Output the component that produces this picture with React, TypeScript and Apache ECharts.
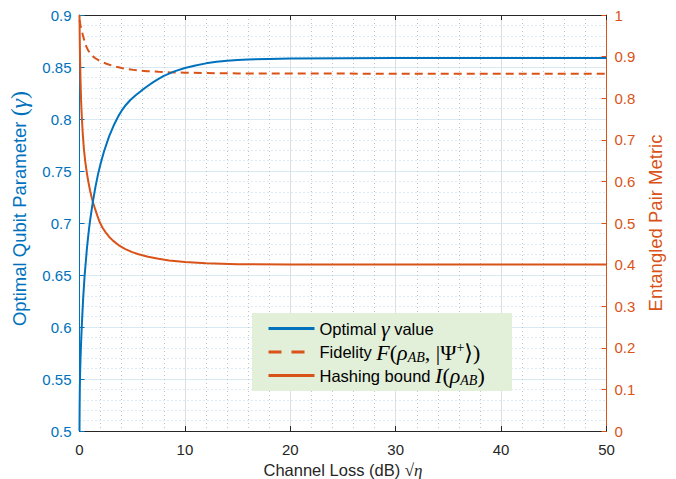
import React, { useEffect, useRef } from "react";
import * as echarts from "echarts";

// Optimal gamma (left axis)
const gammaData: [number, number][] = [
  [0, 0.5], [0.01, 0.52], [0.03, 0.54], [0.06, 0.557], [0.1, 0.571], [0.15, 0.585],
  [0.2, 0.597], [0.25, 0.608], [0.35, 0.628], [0.49, 0.65], [0.6, 0.663], [0.7, 0.675],
  [0.8, 0.685], [0.9, 0.694], [1.0, 0.702], [1.1, 0.709], [1.28, 0.721], [1.5, 0.734],
  [1.76, 0.747], [2.0, 0.757], [2.33, 0.769], [2.8, 0.783], [3.3, 0.795], [3.7, 0.803],
  [4.0, 0.808], [4.4, 0.8135], [4.8, 0.818], [5.3, 0.8225], [5.9, 0.8275], [6.5, 0.832],
  [7, 0.8355], [7.5, 0.8385], [8, 0.8415], [9, 0.8458], [10, 0.849], [11, 0.8515],
  [12, 0.8535], [13, 0.855], [14, 0.856], [15, 0.8567], [16, 0.8572], [18, 0.8578],
  [20, 0.8581], [25, 0.8585], [30, 0.8586], [40, 0.8587], [50, 0.8587],
];

// Fidelity F (right axis)
const fidelityData: [number, number][] = [
  [0, 0.988], [0.1, 0.975], [0.2, 0.964], [0.35, 0.948], [0.5, 0.935], [0.65, 0.924],
  [0.8, 0.916], [1.0, 0.908], [1.2, 0.902], [1.5, 0.896], [1.8, 0.8915], [2.1, 0.888],
  [2.5, 0.8835], [3.0, 0.879], [3.5, 0.8755], [4.0, 0.8725], [4.5, 0.87], [5.3, 0.8675],
  [6.4, 0.865], [7.5, 0.8635], [8.5, 0.8625], [10, 0.8613], [12, 0.8603], [15, 0.8596],
  [20, 0.8592], [30, 0.859], [50, 0.8588],
];

// Hashing bound I (right axis)
const hashingData: [number, number][] = [
  [0, 1.0], [0.02, 0.95], [0.05, 0.9], [0.1, 0.84], [0.15, 0.795], [0.2, 0.765],
  [0.3, 0.718], [0.42, 0.677], [0.55, 0.647], [0.7, 0.62], [0.85, 0.598], [1.0, 0.578],
  [1.15, 0.562], [1.3, 0.548], [1.5, 0.532], [1.7, 0.517], [1.9, 0.503], [2.2, 0.488],
  [2.5, 0.477], [2.8, 0.467], [3.2, 0.457], [3.7, 0.447], [4.3, 0.438], [5.0, 0.43],
  [5.6, 0.425], [6.5, 0.419], [7.5, 0.414], [8.5, 0.41], [10, 0.406], [12, 0.403],
  [15, 0.401], [20, 0.4], [30, 0.4], [50, 0.4],
];

const seriesNames = ["Optimal γ value", "Fidelity", "Hashing bound"];

const BLUE = "#0072BD";
const ORANGE = "#D95319";
const SANS = "'Liberation Sans', Arial, Helvetica, sans-serif";
const SERIF = "'Liberation Serif', 'DejaVu Serif', 'Times New Roman', serif";

export default function App() {
  const ref = useRef<HTMLDivElement>(null);
  useEffect(() => {
    document.body.style.margin = "0";
    const chart = echarts.init(ref.current!, null, { renderer: "svg" });
    const mathRich = {
      t: { fontFamily: SANS, fontSize: 16.5, color: "#000", lineHeight: 23 },
      m: { fontFamily: SERIF, fontStyle: "italic", fontSize: 22, color: "#000", lineHeight: 23 },
      u: { fontFamily: SERIF, fontSize: 22, color: "#000", lineHeight: 23 },
      s: { fontFamily: SERIF, fontStyle: "italic", fontSize: 14, color: "#000", padding: [10, 0, 0, 0] },
      p: { fontFamily: SERIF, fontSize: 14, color: "#000", padding: [0, 0, 10, 0] },
    };
    const option: any = {
      animation: false,
      grid: { left: 79.5, right: 69.5, top: 15, bottom: 48, outerBoundsMode: "none", containLabel: false },
      graphic: {
        elements: [
          {
            type: "rect",
            z: 3,
            shape: { x: 252, y: 313, width: 260, height: 78 },
            style: { fill: "#e2efd9", stroke: "none" },
          },
        ],
      },
      legend: {
        orient: "vertical",
        left: 267,
        top: 317.5,
        padding: 0,
        itemGap: 0.5,
        itemWidth: 46,
        itemHeight: 14,
        z: 6,
        selectedMode: false,
        itemStyle: { opacity: 0, color: "transparent", borderWidth: 0 },
        data: [
          { name: seriesNames[0], lineStyle: { width: 3, color: BLUE } },
          { name: seriesNames[1], lineStyle: { width: 3, color: ORANGE, type: [13, 10] } },
          { name: seriesNames[2], lineStyle: { width: 3, color: ORANGE } },
        ],
        formatter: (name: string) => {
          if (name === seriesNames[0]) return "{t|Optimal }{m|γ}{t| value}";
          if (name === seriesNames[1]) return "{t|Fidelity }{m|F}{u|(}{m|ρ}{s|AB}{u|, |Ψ}{p|+}{u|⟩)}";
          return "{t|Hashing bound }{m|I}{u|(}{m|ρ}{s|AB}{u|)}";
        },
        textStyle: { rich: mathRich },
      },
      xAxis: [
        {
          type: "value",
          min: 0,
          max: 50,
          interval: 10,
          position: "bottom",
          name: "{t|Channel Loss (dB) }{r|√}{m|η}",
          nameLocation: "middle",
          nameGap: 21,
          nameTextStyle: {
            rich: {
              t: { fontFamily: SANS, fontSize: 16.5, color: "#262626", lineHeight: 18 },
              r: { fontFamily: SERIF, fontSize: 17, color: "#262626", lineHeight: 18 },
              m: { fontFamily: SERIF, fontStyle: "italic", fontSize: 17, color: "#262626", lineHeight: 18 },
            },
          },
          axisLine: { show: true, onZero: false, lineStyle: { color: "#262626", width: 1 } },
          axisTick: { show: true, inside: true, length: 5, lineStyle: { color: "#262626" } },
          axisLabel: { fontFamily: SANS, fontSize: 15, color: "#262626", margin: 11 },
          splitLine: { show: true, lineStyle: { color: "#dedede", width: 1 } },
          minorTick: { show: false, splitNumber: 5 },
          minorSplitLine: { show: true, lineStyle: { color: "#c4c4c4", width: 1, type: [1, 3] } },
        },
        {
          type: "value",
          min: 0,
          max: 50,
          interval: 10,
          position: "top",
          axisLine: { show: true, onZero: false, lineStyle: { color: "#262626", width: 1 } },
          axisTick: { show: true, inside: true, length: 5, lineStyle: { color: "#262626" } },
          axisLabel: { show: false },
          splitLine: { show: false },
        },
      ],
      yAxis: [
        {
          type: "value",
          min: 0.5,
          max: 0.9,
          interval: 0.05,
          position: "left",
          name: "{t|Optimal Qubit Parameter }{u|(}{m|γ}{u|)}",
          nameLocation: "middle",
          nameRotate: 90,
          nameGap: 41,
          nameTextStyle: {
            padding: [0, 0, 0, 29],
            rich: {
              t: { fontFamily: SANS, fontSize: 18.5, color: BLUE },
              u: { fontFamily: SERIF, fontSize: 24, color: BLUE },
              m: { fontFamily: SERIF, fontStyle: "italic", fontSize: 24, color: BLUE },
            },
          },
          axisLine: { show: true, onZero: false, lineStyle: { color: BLUE, width: 1 } },
          axisTick: { show: true, inside: true, length: 5, lineStyle: { color: BLUE } },
          axisLabel: { fontFamily: SANS, fontSize: 15, color: BLUE, margin: 8 },
          splitLine: { show: true, lineStyle: { color: "#d9eaf5", width: 1 } },
          minorTick: { show: false, splitNumber: 5 },
          minorSplitLine: { show: true, lineStyle: { color: "#b9d8ee", width: 1, type: [1, 3] } },
        },
        {
          type: "value",
          min: 0,
          max: 1,
          interval: 0.1,
          position: "right",
          name: "Entangled Pair Metric",
          nameLocation: "middle",
          nameRotate: 90,
          nameGap: 31,
          nameTextStyle: { fontFamily: SANS, fontSize: 18.5, color: ORANGE },
          axisLine: { show: true, onZero: false, lineStyle: { color: ORANGE, width: 1 } },
          axisTick: { show: true, inside: true, length: 5, lineStyle: { color: ORANGE } },
          axisLabel: { fontFamily: SANS, fontSize: 15, color: ORANGE, margin: 8 },
          splitLine: { show: false },
        },
      ],
      series: [
        {
          name: seriesNames[2],
          type: "line",
          yAxisIndex: 1,
          data: hashingData,
          symbol: "none",
          lineStyle: { color: ORANGE, width: 2 },
          itemStyle: { color: ORANGE },
          z: 2,
        },
        {
          name: seriesNames[1],
          type: "line",
          yAxisIndex: 1,
          data: fidelityData,
          symbol: "none",
          lineStyle: { color: ORANGE, width: 2, type: [8, 5] },
          itemStyle: { color: ORANGE },
          z: 2,
        },
        {
          name: seriesNames[0],
          type: "line",
          yAxisIndex: 0,
          data: gammaData,
          symbol: "none",
          lineStyle: { color: BLUE, width: 2 },
          itemStyle: { color: BLUE },
          z: 2.5,
        },
      ],
    };
    chart.setOption(option);
    return () => chart.dispose();
  }, []);
  return <div ref={ref} style={{ width: 676, height: 479 }} />;
}
